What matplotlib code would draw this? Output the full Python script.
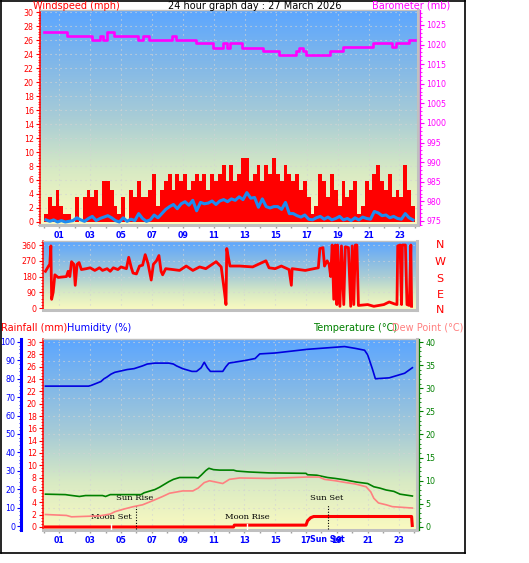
import numpy as np
import matplotlib
matplotlib.use('Agg')
import matplotlib.pyplot as plt
from matplotlib.colors import LinearSegmentedColormap
from matplotlib.ticker import MultipleLocator
from matplotlib.lines import Line2D

W, H = 529, 563

# ---- data ----
hours_q = np.arange(96) * 0.25 + 0.125   # quarter hour samples

wind_gust = [1.2, 3.5, 2.3, 4.6,  2.3, 1.2, 1.2, 0.0,  3.5, 0.0, 3.5, 4.6,
             3.5, 4.6, 2.3, 5.8,  5.8, 4.6, 2.3, 1.2,  3.5, 0.0, 4.6, 3.5,
             5.8, 3.5, 3.5, 4.6,  6.9, 2.3, 4.6, 5.8,  6.9, 4.6, 6.9, 5.8,
             6.9, 4.6, 5.8, 6.9,  5.8, 6.9, 4.6, 6.9,  5.8, 6.9, 8.1, 5.8,
             8.1, 5.8, 6.9, 9.2,  9.2, 5.8, 6.9, 8.1,  5.8, 8.1, 6.9, 9.2,
             6.9, 5.8, 8.1, 6.9,  5.8, 6.9, 4.6, 5.8,  3.5, 1.2, 2.3, 6.9,
             5.8, 3.5, 6.9, 4.6,  2.3, 5.8, 3.5, 4.6,  5.8, 1.2, 2.3, 5.8,
             4.6, 6.9, 8.1, 5.8,  4.6, 6.9, 3.5, 4.6,  3.5, 8.1, 4.6, 2.3]

wind_avg = [0.3, 0.1, 0.3, 0.0,  0.2, 0.0, 0.1, 0.2,  0.6, 0.3, 0.1, 0.5,
            0.8, 0.2, 0.5, 0.7,  0.9, 0.6, 0.2, 0.0,  0.6, 0.1, 0.4, 0.2,
            1.2, 0.5, 0.1, 0.3,  1.0, 0.6, 1.2, 1.8,  2.2, 2.5, 1.9, 2.6,
            2.9, 2.4, 3.1, 1.6,  2.8, 2.6, 2.7, 3.0,  2.5, 3.0, 3.2, 2.9,
            3.3, 3.1, 3.6, 3.2,  4.2, 3.4, 3.5, 2.1,  3.3, 2.2, 2.0, 2.2,
            2.2, 1.8, 2.8, 1.2,  1.2, 0.9, 0.7, 1.0,  0.4, 0.3, 0.6, 0.8,
            0.4, 0.7, 0.3, 0.5,  0.8, 0.3, 0.5, 0.2,  0.6, 0.3, 0.7, 0.5,
            0.4, 1.5, 1.3, 0.9,  1.0, 0.6, 0.8, 0.5,  0.4, 1.2, 0.6, 0.3]

baro_h = [0.0, 1.5, 3.1, 3.6, 3.8, 4.05, 4.5, 6.1, 6.4, 6.8, 8.3, 8.55, 9.85,
          10.95, 11.6, 11.85, 12.05, 12.8, 14.2, 15.2, 16.3, 16.5, 16.75,
          16.95, 18.5, 19.35, 21.3, 22.5, 22.8, 23.6, 24.0]
baro_v = [1023.2, 1022.1, 1021.2, 1022.1, 1021.2, 1023.2, 1022.1, 1021.2,
          1022.1, 1021.2, 1022.1, 1021.2, 1020.3, 1019.2, 1020.3, 1019.2,
          1020.3, 1019.2, 1018.4, 1017.3, 1018.4, 1019.2, 1018.4, 1017.3,
          1018.4, 1019.4, 1020.3, 1019.4, 1020.3, 1021.2, 1021.2]

wdir_h = [0.1, 0.3, 0.38, 0.45, 0.5, 0.6, 0.71, 0.92, 1.46, 1.57, 1.68, 1.79,
          1.94, 2.03, 2.15, 2.28, 2.43, 2.75, 3.0, 3.3, 3.6, 3.8, 4.1, 4.3,
          4.5, 4.8, 5.0, 5.35, 5.5, 5.67, 5.78, 6.0, 6.2, 6.4, 6.57, 6.75,
          6.96, 7.1, 7.3, 7.46, 7.6, 7.7, 7.9, 8.36, 8.8, 9.23, 9.66, 10.1,
          10.5, 11.17, 11.5, 11.7, 11.81, 11.86, 11.94, 12.07, 12.7, 13.54,
          14.4, 14.6, 15.0, 15.4, 15.9, 16.05, 16.1, 16.95, 17.8, 17.9,
          18.1, 18.2, 18.37, 18.5, 18.6, 18.7, 18.8, 18.9, 19.0, 19.05,
          19.2, 19.3, 19.45, 19.55, 19.75, 19.9, 20.0, 20.1, 20.2, 20.3,
          20.4, 21.0, 21.4, 22.05, 22.4, 22.7, 22.9, 22.95, 23.1, 23.2,
          23.25, 23.45, 23.55, 23.7, 23.8, 23.85]
wdir_v = [210, 240, 250, 355, 50, 90, 190, 175, 180, 210, 180, 265,
          250, 130, 250, 260, 220, 225, 230, 215, 230, 215, 225, 210,
          230, 220, 235, 225, 290, 230, 200, 195, 240, 245, 305, 255,
          160, 250, 270, 300, 210, 190, 225, 220, 215, 240, 215, 235,
          225, 265, 235, 100, 20, 340, 300, 240, 240, 235,
          270, 230, 225, 240, 220, 130, 225, 215, 230, 340,
          345, 240, 270, 250, 180, 360, 50, 360, 20, 360,
          10, 355, 20, 350, 345, 10, 355, 20, 360, 360,
          15, 20, 10, 20, 35, 25, 20, 355, 360, 20,
          360, 360, 20, 15, 360, 10]

hum_h = [0.1, 2.9, 3.1, 3.4, 3.7, 3.9, 4.1, 4.35, 4.6, 5.4, 5.85, 6.4, 6.7,
         7.2, 8.1, 8.4, 8.6, 9.0, 9.6, 9.9, 10.2, 10.4, 10.6, 10.8, 11.6,
         11.8, 12.0, 13.1, 13.7, 14.0, 15.0, 17.1, 19.5, 20.2, 20.8, 21.0,
         21.3, 21.5, 22.4, 23.0, 23.4, 23.9]
hum_v = [76, 76, 76.5, 77.5, 78.5, 80, 81, 82.5, 83.5, 85, 85.5, 87, 88,
         88.5, 88.5, 88, 87, 85.5, 84, 84, 86, 89, 86, 84, 84,
         86.5, 88.5, 90, 91, 93.5, 94, 96, 97.5, 96.5, 95.5, 93,
         85.5, 80, 80.5, 82, 83, 86]

temp_h = [0.1, 1.4, 1.6, 2.3, 2.7, 3.8, 4.0, 4.3, 6.3, 6.5, 6.9, 7.2, 7.5,
          7.8, 8.1, 8.4, 8.8, 9.8, 10.0, 10.2, 10.5, 10.7, 11.0, 11.4, 12.3,
          12.5, 13.3, 14.6, 17.0, 17.1, 17.7, 18.4, 18.9, 19.5, 20.3, 21.0,
          21.4, 21.8, 22.2, 22.7, 23.1, 23.9]
temp_v = [7.1, 7.0, 6.9, 6.6, 6.8, 6.8, 6.6, 7.0, 7.0, 7.4, 7.8, 8.1, 8.6,
          9.2, 9.8, 10.3, 10.7, 10.7, 10.6, 11.2, 12.2, 12.7, 12.4, 12.3, 12.3,
          12.1, 11.9, 11.7, 11.6, 11.3, 11.2, 10.7, 10.5, 10.2, 9.7, 9.4,
          8.7, 8.4, 8.0, 7.7, 7.1, 6.7]

dew_h = [0.1, 1.46, 1.79, 3.6, 4.3, 4.6, 5.1, 5.8, 6.4, 7.07, 7.7, 8.15,
         9.0, 9.66, 10.0, 10.4, 10.74, 11.17, 11.6, 12.03, 12.7, 14.6, 17.0,
         17.85, 18.2, 18.9, 19.6, 20.2, 20.9, 21.2, 21.4, 21.7, 22.2, 22.6,
         23.9]
dew_v = [2.7, 2.5, 2.2, 2.4, 2.8, 3.3, 3.8, 4.4, 4.8, 5.7, 6.6, 7.3,
         7.8, 7.8, 8.4, 9.6, 10.0, 9.7, 9.4, 10.3, 10.6, 10.5, 10.8,
         10.8, 10.3, 10.0, 9.6, 9.3, 8.7, 7.6, 6.2, 5.2, 4.8, 4.4,
         4.1]

rain_h = [0.0, 12.35, 17.0, 17.1, 17.3, 17.5, 23.85, 23.9]
rain_v = [0.0, 0.0, 0.3, 1.0, 1.5, 1.7, 1.7, 0.0]
rain_h = [0.0, 12.3, 12.35, 17.0, 17.1, 17.3, 17.5, 23.85, 23.9]
rain_v = [0.0, 0.0, 0.3, 0.3, 1.0, 1.5, 1.7, 1.7, 0.0]

events = [('Moon Set', 4.35, 'moon'), ('Sun Rise', 6.0, 'sun'),
          ('Moon Rise', 13.2, 'moon'), ('Sun Set', 18.45, 'sun')]

hour_labels = ['%02d' % h for h in range(1, 24, 2)]


def rect(x0, y0, x1, y1):
    return [x0 / W, 1 - y1 / H, (x1 - x0) / W, (y1 - y0) / H]


def fpos(x, y):
    return x / W, 1 - y / H


bg = LinearSegmentedColormap.from_list(
    'bg', ['#FAFAC0', '#D8EAC4', '#A8CCD6', '#82B8E8', '#5CA6FF'])
grad = np.linspace(0, 1, 256).reshape(-1, 1)
GRID = dict(color='#D4D4D4', lw=0.8, ls=(0, (1, 3.5)))
FS = 5.7


def paint(ax):
    ax.imshow(grad, cmap=bg, origin='lower', aspect='auto',
              extent=[0, 1, 0, 1], transform=ax.transAxes, zorder=0,
              interpolation='bicubic')


def frame(ax, left_color):
    ax.spines['left'].set_color(left_color)
    ax.spines['left'].set_linewidth(1.1)
    ax.spines['top'].set_color('#C0C0C0')
    ax.spines['top'].set_linewidth(1.0)
    for s in ('bottom', 'right'):
        ax.spines[s].set_color('#C0C0C0')
        ax.spines[s].set_linewidth(2.2)


def hour_axis(ax, labels=True):
    ax.set_xticks(range(1, 24, 2))
    ax.set_xticks(range(0, 25), minor=True)
    if labels:
        ax.set_xticklabels(hour_labels, color='#0000FF', fontsize=FS,
                           fontweight='bold')
    else:
        ax.set_xticklabels([])
    ax.tick_params(axis='x', which='both', colors='#A0A0A0', length=2.5,
                   width=1, pad=2, labelcolor='#0000FF')
    for xv in range(1, 24, 2):
        ax.axvline(xv, zorder=0.5, **GRID)


fig = plt.figure(figsize=(W / 100, H / 100), dpi=100)

# ---- wind speed / barometer ----
ax1 = fig.add_axes(rect(40, 10, 418, 225))
paint(ax1)
ax1.bar(hours_q, wind_gust, width=0.25, color='#FF0000', linewidth=0,
        zorder=2)
ax1.plot(hours_q, wind_avg, color='#1E8CF0', lw=2.2, zorder=3)
ax1.set_xlim(-0.26, 24.2)
ax1.set_ylim(-0.43, 30.29)
ax1.yaxis.set_major_locator(MultipleLocator(2))
ax1.yaxis.set_minor_locator(MultipleLocator(0.4))
ax1.tick_params(axis='y', which='both', colors='red', labelsize=FS, pad=1.5)
ax1.tick_params(axis='y', which='major', length=3)
ax1.tick_params(axis='y', which='minor', length=1.5)
for yv in range(2, 31, 2):
    ax1.axhline(yv, zorder=0.5, **GRID)
hour_axis(ax1)
frame(ax1, 'red')

ax1b = ax1.twinx()
ax1b.step(baro_h, baro_v, where='post', color='#FF00FF', lw=1.9, zorder=4)
ax1b.set_ylim(973.98, 1028.8)
ax1b.yaxis.set_major_locator(MultipleLocator(5))
ax1b.yaxis.set_minor_locator(MultipleLocator(1))
ax1b.tick_params(axis='y', which='both', colors='#FF00FF', labelsize=FS,
                 pad=1.5)
ax1b.tick_params(axis='y', which='major', length=3)
ax1b.tick_params(axis='y', which='minor', length=1.5)
for s in ('left', 'top', 'bottom'):
    ax1b.spines[s].set_visible(False)
ax1b.spines['right'].set_color('#FF00FF')
ax1b.spines['right'].set_linewidth(0.9)
ax1b.spines['right'].set_position(('outward', 1.4))

# ---- wind direction ----
ax2 = fig.add_axes(rect(43, 241, 417, 310))
paint(ax2)
ax2.plot(wdir_h, wdir_v, color='#FF0000', lw=2.0, zorder=3)
ax2.set_xlim(-0.06, 24.2)
ax2.set_ylim(-11, 383)
ax2.set_yticks([0, 90, 180, 270, 360])
ax2.yaxis.set_minor_locator(MultipleLocator(18))
ax2.tick_params(axis='y', which='both', colors='red', labelsize=FS, pad=1.5)
ax2.tick_params(axis='y', which='major', length=3)
ax2.tick_params(axis='y', which='minor', length=1.5)
ax2.set_xticks([])
for yv in (90, 180, 270, 360):
    ax2.axhline(yv, zorder=0.5, **GRID)
for xv in range(1, 24, 2):
    ax2.axvline(xv, zorder=0.5, **GRID)
frame(ax2, 'red')
for lab, yy in zip(['N', 'W', 'S', 'E', 'N'], [245, 262, 279, 295, 310]):
    fig.text(*fpos(440, yy), lab, color='red', fontsize=8, ha='center',
             va='center')

# ---- rain / humidity / temperature ----
ax3 = fig.add_axes(rect(43, 339, 417, 530))
paint(ax3)
ax3.set_xlim(-0.06, 24.2)
ax3.set_ylim(-0.49, 30.49)
for yv in range(3, 31, 3):
    ax3.axhline(yv, zorder=0.5, **GRID)
ax3.plot(rain_h, rain_v, color='#FF0000', lw=2.2, zorder=3,
         solid_capstyle='butt')
ax3.yaxis.set_major_locator(MultipleLocator(2))
ax3.yaxis.set_minor_locator(MultipleLocator(0.5))
ax3.tick_params(axis='y', which='both', colors='red', labelsize=FS, pad=1.5)
ax3.tick_params(axis='y', which='major', length=3)
ax3.tick_params(axis='y', which='minor', length=1.5)
hour_axis(ax3)
frame(ax3, 'red')

for name, hh, kind in events:
    if kind == 'moon':
        ax3.plot([hh, hh], [-0.3, 0.5], color='white', lw=1.0, zorder=4)
        ax3.text(hh, 1.6, name, fontsize=6, family='DejaVu Serif',
                 ha='center', va='center', zorder=5)
    else:
        ax3.plot([hh, hh], [-0.3, 3.7], color='black', lw=0.8,
                 ls=(0, (1, 1.5)), zorder=4)
        ax3.text(hh - 0.1, 4.7, name, fontsize=6, family='DejaVu Serif',
                 ha='center', va='center', zorder=5)

hum = ax3.twinx()
hum.plot(hum_h, hum_v, color='#0000E0', lw=1.2, zorder=3)
hum.set_ylim(-2.17, 101.6)
hum.yaxis.tick_left()
hum.yaxis.set_label_position('left')
hum.yaxis.set_major_locator(MultipleLocator(10))
hum.yaxis.set_minor_locator(MultipleLocator(2))
hum.tick_params(axis='y', which='both', colors='#0000FF', labelsize=FS,
                pad=1.5, left=True, right=False, labelleft=True,
                labelright=False)
hum.tick_params(axis='y', which='major', length=3)
hum.tick_params(axis='y', which='minor', length=1.5)
for s in ('right', 'top', 'bottom'):
    hum.spines[s].set_visible(False)
hum.spines['left'].set_position(('outward', 15.5))
hum.spines['left'].set_color('#0000FF')
hum.spines['left'].set_linewidth(2.2)

tmp = ax3.twinx()
tmp.plot(temp_h, temp_v, color='#008000', lw=1.2, zorder=3)
tmp.plot(dew_h, dew_v, color='#FF8080', lw=1.2, zorder=3)
tmp.set_ylim(-0.65, 40.65)
tmp.yaxis.set_major_locator(MultipleLocator(5))
tmp.yaxis.set_minor_locator(MultipleLocator(1))
tmp.tick_params(axis='y', which='both', colors='#008000', labelsize=FS,
                pad=1.5)
tmp.tick_params(axis='y', which='major', length=3)
tmp.tick_params(axis='y', which='minor', length=1.5)
for s in ('left', 'top', 'bottom'):
    tmp.spines[s].set_visible(False)
tmp.spines['right'].set_color('#008000')
tmp.spines['right'].set_linewidth(0.9)
tmp.spines['right'].set_position(('outward', 1.4))

fig.text(*fpos(327, 540), 'Sun Set', color='#0000FF', fontsize=FS,
         fontweight='bold', ha='center', va='center')

# ---- headings ----
fig.text(*fpos(33, 6), 'Windspeed (mph)', color='red', fontsize=7,
         va='center')
fig.text(*fpos(255, 6), '24 hour graph day : 27 March 2026', color='black',
         fontsize=7, ha='center', va='center')
fig.text(*fpos(372, 6), 'Barometer (mb)', color='#FF00FF', fontsize=7,
         va='center')
fig.text(*fpos(1, 328), 'Rainfall (mm)', color='red', fontsize=7,
         va='center')
fig.text(*fpos(67, 328), 'Humidity (%)', color='#0000FF', fontsize=7,
         va='center')
fig.text(*fpos(313, 328), 'Temperature (°C)', color='#008000', fontsize=7,
         va='center')
fig.text(*fpos(392, 328), 'Dew Point (°C)', color='#FF8080', fontsize=7,
         va='center')

# ---- outer frame ----
for xs, ys in [([1, 1], [0, 553]), ([465, 465], [0, 553]),
               ([1, 465], [553, 553]), ([1, 465], [0.5, 0.5])]:
    fig.add_artist(Line2D([x / W for x in xs], [1 - y / H for y in ys],
                          transform=fig.transFigure, color='black', lw=1.2))

fig.savefig('out.png', dpi=100)
